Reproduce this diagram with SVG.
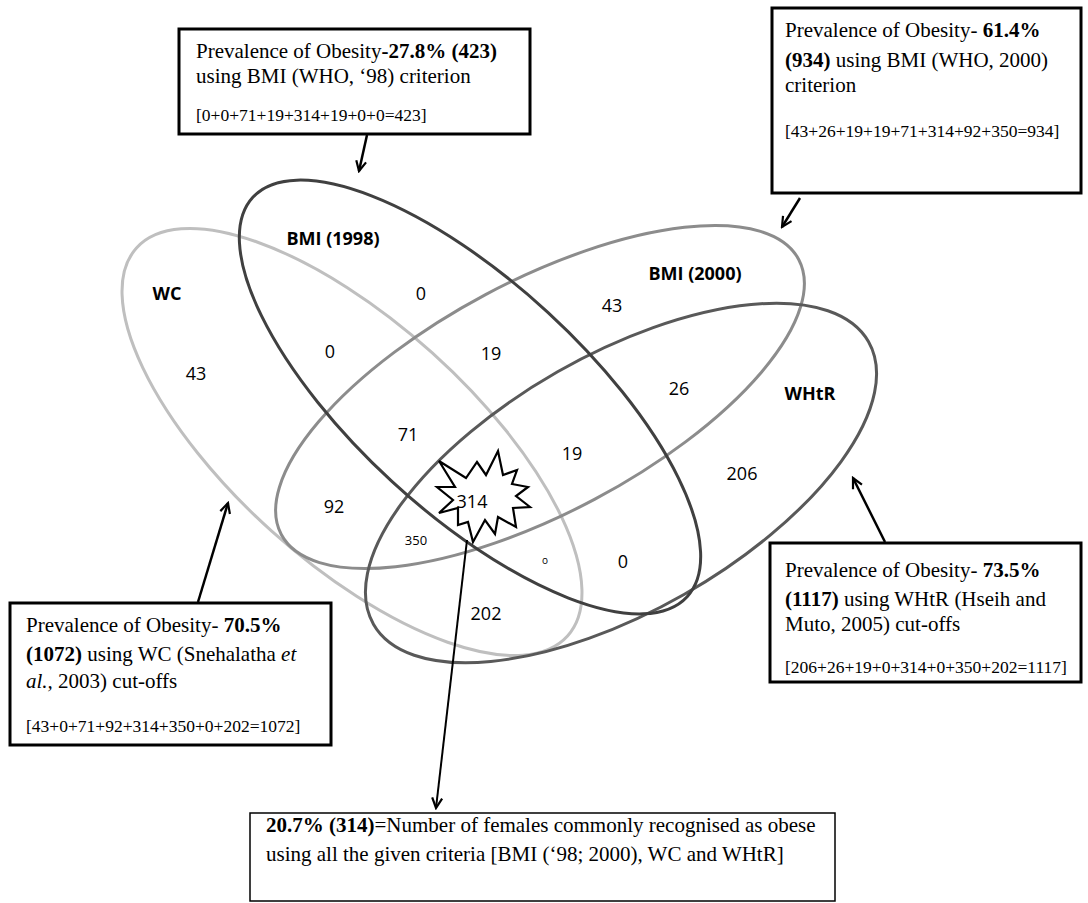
<svg xmlns="http://www.w3.org/2000/svg" width="1088" height="903" viewBox="0 0 1088 903">
<defs>
<marker id="ah" markerWidth="14" markerHeight="14" viewBox="-12 -7 14 14" refX="0" refY="0" orient="auto" markerUnits="userSpaceOnUse">
<path d="M-10,-5 L0,0 L-10,5" fill="none" stroke="#000" stroke-width="2.2"/>
</marker>
<style>
.lbl{font-family:"Open Sans","Liberation Sans",sans-serif;font-size:18px;fill:#000;text-anchor:middle}
.b{font-weight:bold}
.set{fill:none;stroke-width:3}
.box{fill:#fff;stroke:#000;stroke-width:3}
.t{font-family:"Liberation Serif","Times New Roman",serif;font-size:21px;fill:#000}
.s{font-size:17.5px}
.arr{stroke:#000;stroke-width:2.5;fill:none;marker-end:url(#ah)}
</style>
</defs>
<rect width="1088" height="903" fill="#fff"/>
<g id="set-wc"><ellipse class="set" cx="352" cy="442" rx="290" ry="120" transform="rotate(42 352 442)" stroke="#bfbfbf"/></g>
<g id="set-bmi2000"><ellipse class="set" cx="540" cy="397" rx="293" ry="116" transform="rotate(-28 540 397)" stroke="#8c8c8c"/></g>
<g id="set-whtr"><ellipse class="set" cx="621" cy="483" rx="285" ry="128" transform="rotate(-29.7 621 483)" stroke="#595959"/></g>
<g id="set-bmi1998"><ellipse class="set" cx="470" cy="397" rx="295" ry="115" transform="rotate(42.6 470 397)" stroke="#404040"/></g>
<g id="star-314">
<polygon points="439,461 466,478 477,462 486,475 498,451 503,475 517,470 512,484 528,487 516,496 530,507 513,508 516,527 498,517 495,534 485,520 473,542 468,522 458,525 458,508 439,513 453,500 437,487 455,487" fill="#fff" stroke="#000" stroke-width="2.2" stroke-linejoin="miter"/>
<text class="lbl" x="472" y="508">314</text>
</g>
<g id="labels">
<text class="lbl b" x="167" y="300">WC</text>
<text class="lbl b" x="333" y="245">BMI (1998)</text>
<text class="lbl b" x="695" y="280">BMI (2000)</text>
<text class="lbl b" x="810" y="400">WHtR</text>
<text class="lbl" x="421" y="300">0</text>
<text class="lbl" x="330" y="358">0</text>
<text class="lbl" x="196" y="380">43</text>
<text class="lbl" x="491" y="360">19</text>
<text class="lbl" x="612" y="312">43</text>
<text class="lbl" x="679" y="395">26</text>
<text class="lbl" x="572" y="460">19</text>
<text class="lbl" x="408" y="441">71</text>
<text class="lbl" x="334" y="513">92</text>
<text class="lbl" x="416" y="545" style="font-size:13px">350</text>
<text class="lbl" x="545" y="564" style="font-size:10px">o</text>
<text class="lbl" x="623" y="568">0</text>
<text class="lbl" x="486" y="620">202</text>
<text class="lbl" x="742" y="480">206</text>
</g>
<g id="connectors">
<line class="arr" x1="367" y1="135" x2="359" y2="171"/>
<line class="arr" x1="800" y1="198" x2="782" y2="227"/>
<line class="arr" x1="198" y1="602" x2="228" y2="503"/>
<line class="arr" x1="885" y1="542" x2="853" y2="478"/>
<line class="arr" x1="467" y1="540" x2="436" y2="808" style="stroke-width:2"/>
</g>
<g id="box-bmi1998">
<rect class="box" x="179" y="29" width="351" height="105"/>
<text class="t" x="196" y="58">Prevalence of Obesity<tspan font-weight="bold">-27.8% (423)</tspan></text>
<text class="t" x="196" y="83">using BMI (WHO, ‘98) criterion</text>
<text class="t s" x="196" y="121">[0+0+71+19+314+19+0+0=423]</text>
</g>
<g id="box-bmi2000">
<rect class="box" x="772" y="8" width="309" height="185"/>
<text class="t" x="785" y="37">Prevalence of Obesity- <tspan font-weight="bold">61.4%</tspan></text>
<text class="t" x="785" y="67"><tspan font-weight="bold">(934)</tspan> using BMI (WHO, 2000)</text>
<text class="t" x="785" y="92">criterion</text>
<text class="t s" x="785" y="137">[43+26+19+19+71+314+92+350=934]</text>
</g>
<g id="box-wc">
<rect class="box" x="10" y="603" width="321" height="142"/>
<text class="t" x="26" y="632">Prevalence of Obesity- <tspan font-weight="bold">70.5%</tspan></text>
<text class="t" x="26" y="661"><tspan font-weight="bold">(1072)</tspan> using WC (Snehalatha <tspan font-style="italic">et</tspan></text>
<text class="t" x="26" y="688"><tspan font-style="italic">al.,</tspan> 2003) cut-offs</text>
<text class="t s" x="26" y="732">[43+0+71+92+314+350+0+202=1072]</text>
</g>
<g id="box-whtr">
<rect class="box" x="770" y="543" width="311" height="139"/>
<text class="t" x="785" y="577">Prevalence of Obesity- <tspan font-weight="bold">73.5%</tspan></text>
<text class="t" x="785" y="606"><tspan font-weight="bold">(1117)</tspan> using WHtR (Hseih and</text>
<text class="t" x="785" y="631">Muto, 2005) cut-offs</text>
<text class="t s" x="785" y="673">[206+26+19+0+314+0+350+202=1117]</text>
</g>
<g id="box-all">
<rect x="250" y="813" width="585" height="88" fill="#fff" stroke="#000" stroke-width="1.5"/>
<text class="t" x="266" y="832"><tspan font-weight="bold">20.7% (314)</tspan>=Number of females commonly recognised as obese</text>
<text class="t" x="266" y="861">using all the given criteria [BMI (‘98; 2000), WC and WHtR]</text>
</g>
</svg>
